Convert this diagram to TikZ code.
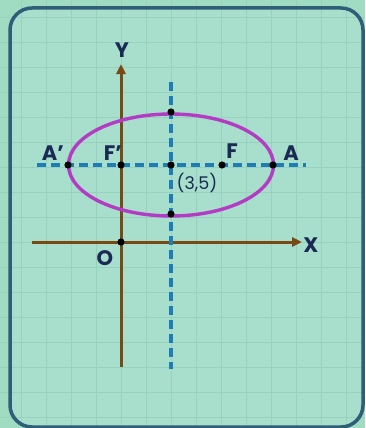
\documentclass[tikz,border=0pt]{standalone}
\usepackage{fontspec}
\setmainfont{Poppins}
\usetikzlibrary{arrows.meta,positioning}
\definecolor{bgc}{HTML}{9FDCC2}
\definecolor{panelc}{HTML}{A7DECC}
\definecolor{gridc}{HTML}{98D2BF}
\definecolor{framec}{HTML}{2E5E78}
\definecolor{axisc}{HTML}{7A4A14}
\definecolor{dashc}{HTML}{1F7DB5}
\definecolor{ellc}{HTML}{B43CC4}
\definecolor{labc}{HTML}{1B2A55}
\tikzset{
  axisline/.style={axisc,line width=3pt,-{Triangle[length=10pt,width=9pt]}},
  dashline/.style={dashc,line width=3.4pt,dash pattern=on 9pt off 5pt},
  lbl/.style={text=labc,font=\fontsize{21}{21}\selectfont\bfseries,inner sep=0pt},
  dotc/.style={fill=black}
}
\begin{document}
\begin{tikzpicture}[x=1pt,y=-1pt,line join=round]
  \fill[bgc] (0,0) rectangle (365,428);
  \useasboundingbox (0,0) rectangle (365,428);
  \fill[panelc,rounded corners=22pt] (10,8) rectangle (363,427);
  \foreach \gx in {-4,...,9} \draw[gridc,line width=0.7pt] (121+25*\gx,0) -- ++(0,428);
  \foreach \gy in {-9,...,7} \draw[gridc,line width=0.7pt] (0,242+25*\gy) -- ++(365,0);
  \draw[framec,line width=3.5pt,rounded corners=22pt] (10,8) rectangle (363,427);
  % points
  \coordinate (O) at (121,242);
  \coordinate (Ap) at (68,165); \coordinate (Fp) at (121,165); \coordinate (C) at (171,165);
  \coordinate (F) at (222,165); \coordinate (A) at (273,165);
  \coordinate (Bt) at (171,112); \coordinate (Bb) at (171,214);
  \coordinate (xl) at (32,242); \coordinate (xr) at (302,242);
  \coordinate (yb) at (121,367); \coordinate (yt) at (121,64);
  \coordinate (hl) at (37,165); \coordinate (hr) at (306,165);
  \coordinate (vt) at (171,82); \coordinate (vb) at (171,369);
  % axes and dashed lines
  \draw[axisline] (xl) -- (xr);
  \draw[axisline] (yb) -- (yt);
  \draw[dashline] (hl) -- (hr);
  \draw[dashline] (vt) -- (vb);
  \draw[ellc,line width=3.4pt] (C) ellipse [x radius=102.5,y radius=51];
  \foreach \p in {O,Ap,Fp,C,F,A,Bt,Bb} \fill[dotc] (\p) circle (3.6pt);
  % labels
  \node[lbl] (lblY) at (122,50) {Y};
  \node[lbl] (lblX) at (311,245) {X};
  \node[lbl] (lblO) at (105,258) {O};
  \node[lbl] (lblAp) at (53,153) {A'};
  \node[lbl] (lblFp) at (113,153) {F'};
  \node[lbl] (lblF) at (232,151) {F};
  \node[lbl] (lblA) at (291,153) {A};
  \node[text=labc,font=\fontsize{17.5}{17.5}\selectfont,inner sep=0pt] (lblC) at (197,183) {(3,5)};
\end{tikzpicture}
\end{document}
